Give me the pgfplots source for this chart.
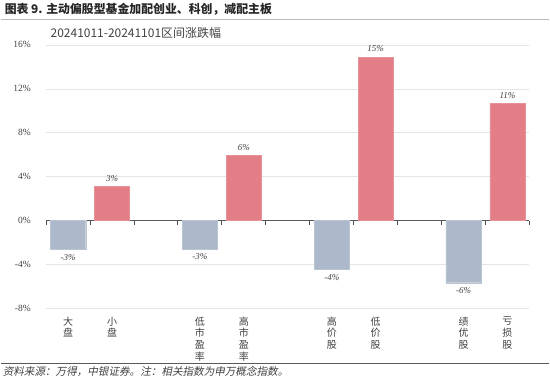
\documentclass[border=0pt]{standalone}
\usepackage{pgfplots}
\pgfplotsset{compat=1.18}
\usepackage{pgfplotstable}
\usepackage{fontspec}
\setmainfont{Liberation Serif}
\newfontfamily\cjk{Noto Sans CJK SC}
\newfontfamily\cjkit[FakeSlant=0.2]{Noto Sans CJK SC}
\definecolor{barred}{HTML}{E37E86}
\definecolor{bargray}{HTML}{ADB8CA}
\definecolor{txt}{HTML}{404040}
\pgfplotstableread{
x y lab
1 3.09 3
4 5.94 6
7 14.88 15
10 10.66 11
}\redtab
\pgfplotstableread{
x y lab
0 -2.64 -3
3 -2.58 -3
6 -4.45 -4
9 -5.67 -6
}\graytab
\begin{document}
\begin{tikzpicture}[x=1pt,y=1pt]
\path (0,0) rectangle (550,379);
\node[anchor=base west, font=\cjk\bfseries\fontsize{11.9}{12}\selectfont, text=black!85, inner sep=0] at (4,365) {图表 9. 主动偏股型基金加配创业、科创，减配主板};
\draw[gray!55, line width=0.8pt] (0,359.5) -- (550,359.5);
\draw[black!65, line width=1.2pt] (0,15) -- (550,15);
\node[anchor=base west, font=\cjkit\fontsize{10.6}{11}\selectfont, text=txt, inner sep=0] at (2,3) {资料来源：万得，中银证券。注：相关指数为申万概念指数。};
\node[anchor=west, font=\cjk\fontsize{12}{12}\selectfont, text=txt, inner sep=0] at (50,346) {20241011-20241101区间涨跌幅};
\begin{axis}[
  at={(45.7pt,70pt)}, anchor=south west, scale only axis,
  width=484.3pt, height=264pt,
  xmin=-0.5, xmax=10.5, ymin=-8, ymax=16,
  ybar, bar width=0.8, bar shift=0pt,
  axis x line=middle, axis y line=left,
  x axis line style={-, draw=black!65, line width=0.8pt},
  y axis line style={draw=none},
  ytick={-8,-4,0,4,8,12,16},
  yticklabel={\pgfmathprintnumber{\tick}\%},
  /pgf/number format/assume math mode=true,
  yticklabel style={font=\fontsize{9.5}{10}\selectfont, text=txt, xshift=-12pt},
  ymajorgrids, grid style={draw=black!10, line width=0.6pt},
  major tick length=0pt,
  xtick={0,1,3,4,6,7,9,10},
  xticklabels={大\\盘,小\\盘,低\\市\\盈\\率,高\\市\\盈\\率,高\\价\\股,低\\价\\股,绩\\优\\股,亏\\损\\股},
  xticklabel style={align=center, anchor=north, yshift=-93pt, font=\cjk\fontsize{10}{11.7}\selectfont, text=txt},
  nodes near coords={\pgfplotspointmeta\%},
  point meta=explicit symbolic,
  every node near coord/.append style={font=\itshape\fontsize{9}{9}\selectfont, text=txt, inner sep=5pt},
  clip=false,
]
\addplot[fill=barred, draw=barred!85!white, nodes near coords style={anchor=south}] table[x=x, y=y, meta=lab] {\redtab};
\addplot[fill=bargray, draw=bargray!85!white, nodes near coords style={anchor=north}] table[x=x, y=y, meta=lab] {\graytab};
\end{axis}
\foreach \i in {0,...,11} {
  \draw[black!70, line width=1pt] ({45.7+\i*44.027},158) -- ({45.7+\i*44.027},153.5);
}
\end{tikzpicture}
\end{document}
